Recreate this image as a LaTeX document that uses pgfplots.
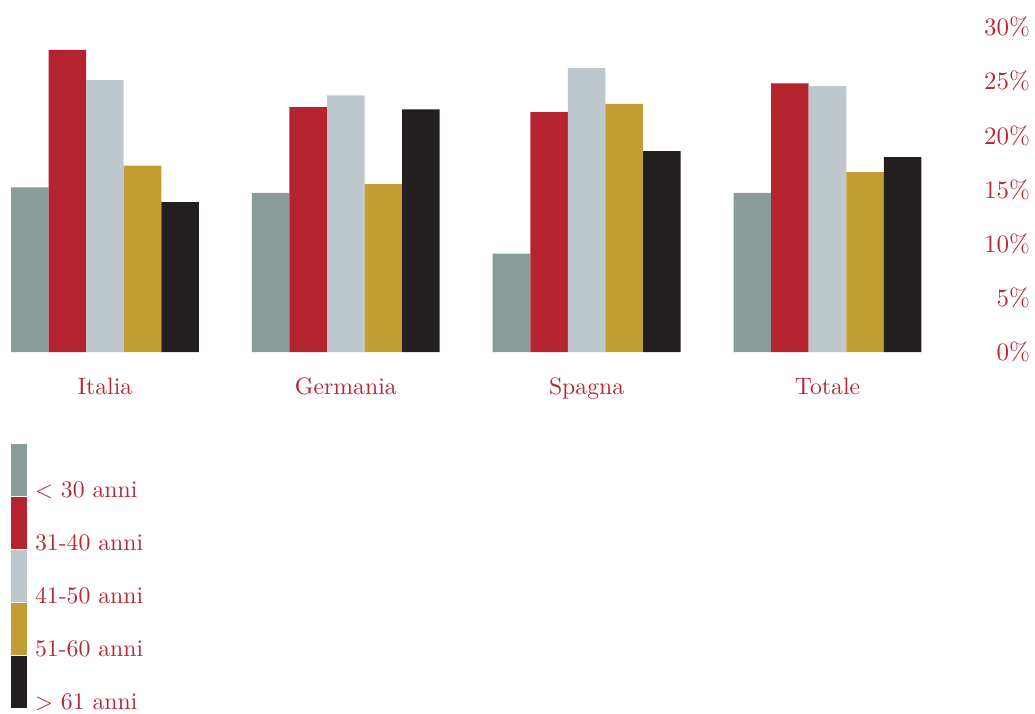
\documentclass[border=0pt]{standalone}
\usepackage{pgfplots}
\pgfplotsset{compat=1.18}
\definecolor{cteal}{HTML}{8A9C9A}
\definecolor{cred}{HTML}{B5232F}
\definecolor{cgray}{HTML}{BEC7CC}
\definecolor{cgold}{HTML}{C29D31}
\definecolor{cblack}{HTML}{231F20}
\definecolor{ctext}{HTML}{B72836}
\begin{document}
\begin{tikzpicture}
\begin{axis}[
  scale only axis,
  width=364pt, height=130pt,
  ybar=0pt, bar width=0.156,
  xmin=-0.39, xmax=3.39,
  ymin=0, ymax=30,
  xtick={0,1,2,3},
  xticklabels={Italia,Germania,Spagna,Totale},
  ytick={0,5,...,30},
  yticklabel pos=right,
  yticklabel={\pgfmathprintnumber{\tick}\%},
  /pgf/number format/assume math mode=true,
  axis line style={draw=none},
  tick style={draw=none},
  xticklabel style={anchor=base, yshift=-12.6pt, text=ctext, font=\fontsize{9.5}{11}\selectfont},
  yticklabel style={anchor=east, xshift=45.6pt, inner xsep=2pt, text=ctext},
  legend cell align=left,
  legend style={at={(0,0)}, anchor=north west, yshift=-36.8pt,
    draw=none, fill=none, inner sep=0pt, outer sep=0pt,
    row sep=0pt, column sep=3.2pt,
    cells={anchor=base west},
    font=\fontsize{9.5}{11}\selectfont,
    nodes={inner sep=0pt, outer sep=0pt, text depth=0pt, text=ctext}},
  legend image code/.code={\fill[#1] (0pt,0.4pt) rectangle (6.4pt,21.2pt);},
]
\addplot[fill=cteal, draw=none] coordinates {(0,15.2) (1,14.7) (2,9.1) (3,14.7)};
\addplot[fill=cred, draw=none] coordinates {(0,27.9) (1,22.6) (2,22.15) (3,24.8)};
\addplot[fill=cgray, draw=none] coordinates {(0,25.1) (1,23.7) (2,26.2) (3,24.55)};
\addplot[fill=cgold, draw=none] coordinates {(0,17.2) (1,15.5) (2,22.9) (3,16.6)};
\addplot[fill=cblack, draw=none] coordinates {(0,13.85) (1,22.4) (2,18.55) (3,18.0)};
\legend{$<$ 30 anni, 31-40 anni, 41-50 anni, 51-60 anni, $>$ 61 anni}
\end{axis}
\path (current axis.south west) ++(-4.4pt,-144.4pt);
\path (current axis.north west) ++(0pt,10.8pt);
\end{tikzpicture}
\end{document}
